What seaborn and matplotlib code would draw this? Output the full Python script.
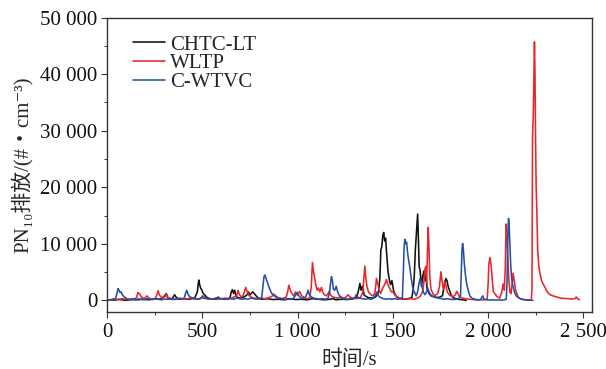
import matplotlib
matplotlib.use("Agg")
import matplotlib.pyplot as plt
import seaborn as sns
import pandas as pd
from matplotlib.ticker import MultipleLocator

# ---------------- data ----------------
chtc_t = [0, 20, 40, 60, 80, 100, 130, 160, 190, 220,
          250, 280, 300, 311, 320, 340, 355, 362, 375, 400,
          430, 460, 474, 479, 482, 486, 491, 498, 505, 515,
          525, 540, 560, 590, 620, 645, 652, 658, 664, 670,
          676, 685, 700, 720, 735, 742, 750, 758, 766, 772,
          778, 785, 795, 810, 840, 870, 900, 930, 960, 990,
          1020, 1050, 1080, 1110, 1140, 1170, 1185, 1200, 1230, 1260,
          1290, 1310, 1320, 1327, 1333, 1340, 1350, 1370, 1390, 1410,
          1425, 1432, 1437, 1442, 1447, 1452, 1457, 1462, 1468, 1475,
          1482, 1488, 1495, 1505, 1520, 1540, 1560, 1580, 1600, 1607,
          1612, 1618, 1624, 1630, 1634, 1638, 1643, 1650, 1658, 1663,
          1668, 1673, 1680, 1690, 1700, 1720, 1740, 1760, 1772, 1778,
          1784, 1790, 1797, 1805, 1815, 1830, 1850, 1870, 1885]
chtc_v = [0, 100, 50, 200, 100, 0, 150, 100, 200, 100,
          300, 200, 700, 1200, 300, 200, 1000, 600, 200, 300,
          200, 400, 1500, 3000, 3600, 2800, 2200, 1800, 1200, 900,
          500, 300, 200, 300, 200, 400, 1500, 1900, 1200, 1800,
          900, 500, 400, 600, 1000, 1500, 900, 1300, 1500, 1200,
          1000, 700, 400, 200, 300, 150, 200, 100, 300, 150,
          200, 100, 300, 200, 100, 200, 300, 100, 200, 150,
          300, 500, 1800, 3000, 1800, 2500, 900, 500, 400, 600,
          1500, 4000, 8900, 9500, 11500, 12000, 10500, 11000, 8000, 5000,
          3500, 2800, 3500, 1500, 600, 300, 200, 300, 500, 2000,
          4000, 8900, 12000, 15250, 11000, 6000, 5300, 2500, 4500, 5200,
          3500, 4800, 2000, 1200, 800, 600, 500, 800, 3000, 3880,
          3500, 2500, 1800, 1000, 500, 300, 150, 100, 0]

wltp_t = [0, 20, 40, 60, 80, 100, 120, 140, 156, 162,
          170, 180, 195, 210, 220, 240, 255, 262, 268, 276,
          290, 305, 312, 320, 340, 360, 380, 400, 420, 440,
          460, 480, 500, 520, 540, 560, 580, 600, 620, 640,
          660, 680, 688, 695, 705, 715, 722, 728, 736, 745,
          755, 770, 790, 810, 830, 850, 865, 875, 885, 900,
          920, 940, 948, 954, 962, 970, 980, 990, 1000, 1011,
          1020, 1035, 1050, 1065, 1072, 1078, 1084, 1090, 1097, 1103,
          1110, 1117, 1125, 1132, 1140, 1150, 1160, 1166, 1172, 1180,
          1195, 1210, 1225, 1240, 1255, 1265, 1275, 1290, 1310, 1330,
          1343, 1348, 1353, 1358, 1364, 1372, 1385, 1395, 1405, 1410,
          1414, 1420, 1428, 1436, 1444, 1452, 1460, 1466, 1472, 1478,
          1485, 1492, 1500, 1510, 1520, 1535, 1550, 1570, 1590, 1610,
          1630, 1645, 1655, 1662, 1668, 1673, 1677, 1681, 1685, 1689,
          1694, 1700, 1710, 1720, 1735, 1745, 1752, 1758, 1765, 1772,
          1778, 1785, 1795, 1805, 1815, 1828, 1835, 1842, 1850, 1865,
          1880, 1900, 1920, 1940, 1960, 1980, 1995, 2000, 2004, 2010,
          2016, 2022, 2027, 2035, 2045, 2060, 2072, 2078, 2085, 2090,
          2094, 2098, 2103, 2108, 2114, 2120, 2126, 2131, 2137, 2143,
          2150, 2158, 2168, 2180, 2195, 2210, 2222, 2227, 2230, 2233,
          2237, 2240, 2243, 2246, 2249, 2252, 2255, 2260, 2266, 2272,
          2280, 2290, 2300, 2310, 2325, 2340, 2360, 2380, 2400, 2420,
          2440, 2455, 2462, 2470, 2479]
wltp_v = [0, 100, 200, 100, 300, 200, 100, 200, 500, 1400,
          1200, 600, 300, 800, 400, 200, 400, 1000, 1700, 900,
          400, 700, 1100, 500, 300, 200, 400, 300, 200, 500,
          300, 200, 400, 300, 200, 300, 500, 300, 400, 300,
          500, 800, 1770, 1000, 600, 900, 1600, 2300, 1500, 900,
          600, 400, 300, 400, 300, 500, 700, 1100, 800, 400,
          300, 600, 1500, 2700, 1800, 1200, 800, 1500, 900, 1600,
          900, 500, 300, 500, 2500, 6700, 5000, 3800, 2500, 1800,
          2200, 1500, 2300, 1500, 1000, 800, 1200, 1600, 1000, 700,
          500, 400, 600, 300, 600, 1000, 600, 400, 300, 500,
          1500, 4000, 6060, 4000, 2500, 1500, 1000, 800, 1200, 2500,
          3900, 3000, 1800, 1200, 2000, 2500, 3000, 3700, 3000, 2500,
          2000, 1500, 1500, 1000, 700, 400, 300, 200, 300, 200,
          400, 800, 1500, 3000, 5500, 6000, 3000, 8000, 12900, 10000,
          4000, 2000, 1200, 800, 1200, 2500, 5060, 3500, 2000, 3200,
          2800, 1500, 1000, 800, 600, 1000, 1600, 1200, 600, 400,
          300, 200, 150, 100, 100, 100, 200, 3000, 6500, 7600,
          6000, 3500, 1600, 1200, 700, 400, 1500, 2900, 1800, 6000,
          13500, 12000, 8000, 4000, 1500, 1200, 3000, 4800, 3500, 2000,
          1200, 600, 300, 150, 100, 50, 0, 200, 2000, 29000,
          33000, 40000, 45700, 40000, 28000, 20000, 16500, 9000, 6000, 4800,
          3500, 2800, 2200, 1500, 1000, 800, 600, 400, 350, 300,
          250, 300, 600, 300, 100]

cwtvc_t = [0, 15, 30, 45, 52, 58, 63, 68, 74, 80,
           88, 95, 105, 120, 135, 150, 165, 180, 195, 210,
           225, 240, 255, 270, 285, 300, 315, 330, 345, 360,
           375, 390, 405, 412, 418, 424, 432, 442, 455, 470,
           485, 495, 502, 508, 518, 530, 545, 560, 575, 585,
           592, 605, 620, 635, 650, 665, 680, 695, 710, 725,
           740, 755, 770, 785, 800, 812, 818, 823, 827, 832,
           838, 845, 852, 860, 868, 878, 890, 905, 920, 935,
           950, 965, 980, 990, 997, 1003, 1012, 1025, 1040, 1050,
           1056, 1062, 1072, 1085, 1100, 1115, 1130, 1145, 1160, 1168,
           1173, 1178, 1183, 1188, 1195, 1203, 1210, 1220, 1232, 1245,
           1260, 1275, 1290, 1300, 1308, 1315, 1325, 1340, 1355, 1370,
           1385, 1400, 1410, 1418, 1425, 1435, 1450, 1465, 1480, 1495,
           1510, 1525, 1540, 1550, 1555, 1559, 1563, 1567, 1572, 1577,
           1583, 1589, 1596, 1603, 1610, 1616, 1622, 1630, 1637, 1643,
           1648, 1653, 1660, 1668, 1676, 1683, 1690, 1698, 1710, 1725,
           1740, 1755, 1770, 1785, 1800, 1815, 1830, 1845, 1855, 1859,
           1863, 1866, 1870, 1875, 1881, 1887, 1895, 1904, 1915, 1930,
           1945, 1960, 1968, 1972, 1978, 1995, 2010, 2025, 2040, 2055,
           2070, 2085, 2095, 2099, 2102, 2105, 2107, 2110, 2114, 2118,
           2123, 2130, 2138, 2147, 2158, 2170, 2182, 2195, 2210, 2225,
           2235]
cwtvc_v = [0, 100, 200, 300, 1200, 2100, 1800, 1400, 1500, 1000,
           700, 500, 300, 200, 300, 150, 250, 200, 100, 300,
           200, 150, 300, 200, 100, 250, 200, 300, 150, 200,
           300, 200, 400, 1200, 1800, 1200, 700, 500, 300, 200,
           300, 500, 800, 600, 400, 300, 200, 250, 400, 600,
           300, 200, 300, 200, 300, 200, 400, 300, 200, 300,
           200, 400, 300, 200, 300, 500, 2500, 4000, 4470, 4200,
           3500, 2800, 2200, 1500, 1100, 800, 500, 400, 300, 200,
           300, 200, 400, 1000, 1400, 1000, 600, 400, 500, 1200,
           1800, 1000, 600, 400, 300, 200, 300, 200, 400, 1500,
           3000, 4200, 3500, 2000, 1800, 2500, 1500, 800, 500, 300,
           200, 300, 200, 500, 1000, 600, 400, 300, 200, 300,
           200, 400, 1000, 1500, 800, 500, 300, 200, 300, 200,
           300, 200, 300, 500, 5000, 9500, 10800, 10000, 10300, 8500,
           7000, 5900, 4000, 2500, 1600, 1300, 800, 1500, 3000, 3800,
           3600, 2500, 1500, 1000, 1400, 2200, 1500, 1000, 700, 500,
           400, 300, 200, 300, 200, 150, 200, 300, 800, 5000,
           9000, 10070, 9000, 6500, 4500, 3000, 1800, 800, 400, 200,
           100, 150, 600, 800, 200, 100, 50, 100, 50, 100,
           50, 100, 200, 3000, 9000, 13000, 14500, 13500, 10000, 6500,
           4000, 2500, 1500, 800, 500, 300, 200, 100, 100, 50,
           0]

series_names = ["CHTC-LT", "WLTP", "C-WTVC"]
series_colors = ["#111111", "#e8262c", "#2650a6"]
x_ticks = [0, 500, 1000, 1500, 2000, 2500]
x_ticklabels = ["0", "500", "1 000", "1 500", "2 000", "2 500"]
y_ticks = [0, 10000, 20000, 30000, 40000, 50000]
y_ticklabels = ["0", "10 000", "20 000", "30 000", "40 000", "50 000"]

assert len(chtc_t) == len(chtc_v)
assert len(wltp_t) == len(wltp_v)
assert len(cwtvc_t) == len(cwtvc_v)

df = pd.concat([
    pd.DataFrame({"t": chtc_t, "v": chtc_v, "cycle": series_names[0]}),
    pd.DataFrame({"t": wltp_t, "v": wltp_v, "cycle": series_names[1]}),
    pd.DataFrame({"t": cwtvc_t, "v": cwtvc_v, "cycle": series_names[2]}),
], ignore_index=True)

# ---------------- style ----------------
sns.set_style("ticks")
fams = ["Liberation Serif", "Noto Sans CJK SC", "DejaVu Sans"]
plt.rcParams["font.family"] = fams
plt.rcParams["axes.unicode_minus"] = False

fig = plt.figure(figsize=(6.06, 3.69), dpi=100)
ax = fig.add_axes([107 / 606, 1 - 311.7 / 369, (592 - 107) / 606, (311.7 - 17.5) / 369])

sns.lineplot(data=df, x="t", y="v", hue="cycle", hue_order=series_names,
             palette=series_colors, estimator=None, sort=False,
             linewidth=1.15, ax=ax)

ax.set_xlim(0, 2545)
ax.set_ylim(-2000, 50000)
ax.set_xticks(x_ticks)
ax.set_xticklabels(x_ticklabels)
ax.set_yticks(y_ticks)
ax.set_yticklabels(y_ticklabels)
ax.xaxis.set_minor_locator(MultipleLocator(250))
ax.yaxis.set_minor_locator(MultipleLocator(5000))
ax.tick_params(which="major", direction="out", length=4.5, width=0.8,
               labelsize=15, color="#333333", labelcolor="#111111")
ax.tick_params(which="minor", direction="out", length=2.5, width=0.7, color="#333333")
ax.tick_params(axis="x", which="major", pad=3.5)
ax.tick_params(axis="y", which="major", pad=2.5)
for s in ax.spines.values():
    s.set_linewidth(1.0)
    s.set_color("#333333")

ax.set_xlabel("时间/s", fontsize=15, family=fams)
ax.set_ylabel("PN₁₀排放/(#・cm⁻³)", fontsize=15, family=fams)
ax.xaxis.set_label_coords(0.5, -0.13)
ax.yaxis.set_label_coords(-0.153, 0.5)

handles, labels = ax.get_legend_handles_labels()
ax.legend(handles, labels, loc="upper left", bbox_to_anchor=(0.054, 0.94),
          frameon=False, fontsize=15, borderpad=0, borderaxespad=0,
          handlelength=1.55, handletextpad=0.2, labelspacing=-0.04)

fig.savefig("out.png", dpi=100)
